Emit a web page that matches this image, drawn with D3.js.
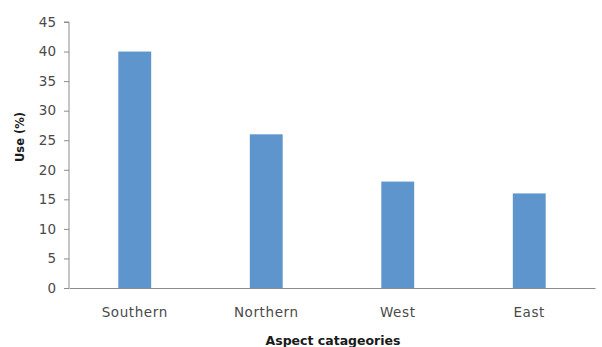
<!DOCTYPE html>
<html lang="en">
<head>
<meta charset="UTF-8">
<title>Use by aspect</title>
<script src="https://d3js.org/d3.v7.min.js"></script>
<style>
    body { margin: 0; background: #fff; }
    .axis path, .axis line { stroke: #8c8c8c; }
    .axis text { font-family: "DejaVu Sans", sans-serif; font-size: 13.5px; fill: #4a4a4a; }
    .xaxis text { letter-spacing: 0.6px; }
    .title { font-family: "DejaVu Sans", sans-serif; font-size: 12.5px; font-weight: bold; fill: #1a1a1a; }
</style>
</head>
<body>
<div id="chart"></div>
<script>
// data
const categories = ["Southern", "Northern", "West", "East"];
const useValues = [40, 26, 18, 16];
const yTicks = [0, 5, 10, 15, 20, 25, 30, 35, 40, 45];

const W = 602, H = 347;
const margin = {top: 22, right: 7, bottom: 59, left: 69};
const width = W - margin.left - margin.right;
const height = H - margin.top - margin.bottom;

const svg = d3.select("#chart").append("svg")
    .attr("width", W)
    .attr("height", H);

const g = svg.append("g")
    .attr("transform", `translate(${margin.left},${margin.top})`);

const x = d3.scaleBand()
    .domain(categories)
    .range([0, width])
    .paddingInner(0.75)
    .paddingOuter(0.375);

const y = d3.scaleLinear()
    .domain([0, 45])
    .range([height, 0]);

// y axis
g.append("g")
    .attr("class", "axis")
    .call(d3.axisLeft(y).tickValues(yTicks).tickSize(5).tickSizeOuter(5).tickPadding(8))
    .call(a => a.select(".domain").attr("d", `M-5,0H0V${height}`));

// bars
g.selectAll(".bar")
    .data(categories)
    .enter().append("rect")
    .attr("class", "bar")
    .attr("x", d => x(d))
    .attr("width", x.bandwidth())
    .attr("y", (d, i) => y(useValues[i]))
    .attr("height", (d, i) => height - y(useValues[i]))
    .attr("fill", "#5f95cd");

// x axis
g.append("g")
    .attr("class", "axis xaxis")
    .attr("transform", `translate(0,${height})`)
    .call(d3.axisBottom(x).tickSize(0).tickSizeOuter(0).tickPadding(19));

// axis titles
svg.append("text")
    .attr("class", "title")
    .attr("x", margin.left + width / 2 + 1)
    .attr("y", 345)
    .attr("text-anchor", "middle")
    .text("Aspect catageories");

svg.append("text")
    .attr("class", "title")
    .attr("transform", `translate(24,137) rotate(-90)`)
    .attr("text-anchor", "middle")
    .style("font-size", "11.5px")
    .text("Use (%)");
</script>
</body>
</html>
